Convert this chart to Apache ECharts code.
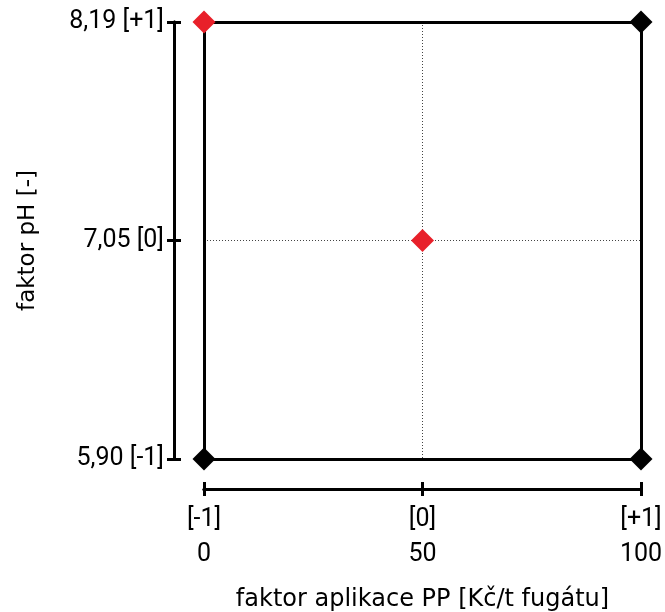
<!DOCTYPE html>
<html>
<head>
<meta charset="utf-8">
<script src="https://cdn.jsdelivr.net/npm/echarts@6/dist/echarts.min.js"></script>
<style>
  html, body { margin: 0; padding: 0; background: #fff; }
  #chart { width: 665px; height: 612px; }
</style>
</head>
<body>
<div id="chart"></div>
<script>
// Coded factor levels and their real values
const xLevels = [-1, 0, 1];
const xCodes = ['[-1]', '[0]', '[+1]'];
const xValues = ['0', '50', '100'];
const yLevels = [-1, 0, 1];
const yValues = ['5,90', '7,05', '8,19'];
const yCodes = ['[-1]', '[0]', '[+1]'];

// Design points (coded units)
const redPoints = [[-1, 1], [0, 0]];
const blackPoints = [[1, 1], [-1, -1], [1, -1]];

const tickFont = 'Roboto';
const nameFont = 'DejaVu Sans';
const xLabel = v => {
  const i = xLevels.indexOf(Math.round(v));
  return i < 0 ? '' : xCodes[i] + '\n' + xValues[i];
};
const yLabel = v => {
  const i = yLevels.indexOf(Math.round(v));
  return i < 0 ? '' : yValues[i] + ' ' + yCodes[i];
};

const axisLine = { show: true, onZero: false, lineStyle: { color: '#000', width: 3 } };
const frameLine = { show: true, onZero: false, lineStyle: { color: '#000', width: 3 } };
const tickStyle = { color: '#000', width: 3 };
const base = { type: 'value', min: -1, max: 1, interval: 1 };
const dotted = {
  show: true, showMinLine: false, showMaxLine: false,
  lineStyle: { color: '#444', type: [1, 2], width: 1 }
};
const hidden = { axisTick: { show: false }, axisLabel: { show: false }, splitLine: { show: false } };

// Frame of the plotting area: one bare axis line per side
const frameX = pos => Object.assign({}, base, hidden, { position: pos, offset: 0, axisLine: frameLine });
const frameY = pos => Object.assign({}, base, hidden, { position: pos, offset: 0, axisLine: frameLine });

const chart = echarts.init(document.getElementById('chart'));
chart.setOption({
  animation: false,
  grid: {
    left: 204, right: 24, top: 22, bottom: 153,
    outerBoundsMode: 'none', containLabel: false, show: false
  },
  xAxis: [
    Object.assign({}, base, {
      position: 'bottom', offset: 30,
      axisLine: axisLine,
      axisTick: { show: true, inside: false, length: 7, lineStyle: tickStyle },
      axisLabel: {
        formatter: xLabel, color: '#000', fontFamily: tickFont, fontSize: 25,
        lineHeight: 35, margin: 13
      },
      splitLine: dotted,
      name: 'faktor aplikace PP [Kč/t fugátu]',
      nameLocation: 'middle', nameGap: 99,
      nameTextStyle: { color: '#000', fontFamily: nameFont, fontSize: 24 }
    }),
    Object.assign({}, base, hidden, {
      position: 'bottom', offset: 30,
      axisLine: axisLine,
      axisTick: { show: true, inside: true, length: 7, lineStyle: tickStyle }
    }),
    frameX('bottom'),
    frameX('top')
  ],
  yAxis: [
    Object.assign({}, base, {
      position: 'left', offset: 30,
      axisLine: axisLine,
      axisTick: { show: true, inside: false, length: 7, lineStyle: tickStyle },
      axisLabel: {
        formatter: yLabel, color: '#000', fontFamily: tickFont, fontSize: 25, margin: 10
      },
      splitLine: dotted,
      name: 'faktor pH [-]',
      nameLocation: 'middle', nameGap: 134,
      nameTextStyle: { color: '#000', fontFamily: nameFont, fontSize: 23 }
    }),
    Object.assign({}, base, hidden, {
      position: 'left', offset: 30,
      axisLine: axisLine,
      axisTick: { show: true, inside: true, length: 7, lineStyle: tickStyle }
    }),
    frameY('left'),
    frameY('right')
  ],
  series: [
    {
      type: 'scatter', data: blackPoints, symbol: 'diamond', symbolSize: 23,
      itemStyle: { color: '#000', opacity: 1 }, z: 5
    },
    {
      type: 'scatter', data: redPoints, symbol: 'diamond', symbolSize: 23,
      itemStyle: { color: '#e8202a', opacity: 1 }, z: 6
    }
  ]
});
</script>
</body>
</html>
